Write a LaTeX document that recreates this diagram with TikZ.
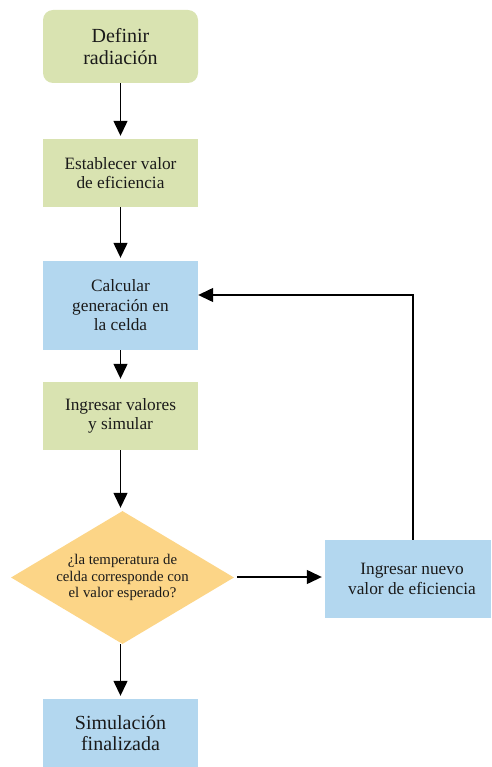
\documentclass[tikz,border=0pt]{standalone}
\usepackage{fontspec}
\setmainfont{Liberation Serif}
\newfontfamily\flowfont{Liberation Serif}
\usetikzlibrary{arrows.meta,shapes.geometric}

\definecolor{stepgreen}{HTML}{D9E3B1}
\definecolor{stepblue}{HTML}{B3D7EF}
\definecolor{decisionorange}{HTML}{FCD587}
\definecolor{inktext}{HTML}{1A1A1A}

\tikzset{
  basebox/.style={draw=none, inner sep=0pt, align=center, text=inktext},
  greenbox/.style={basebox, fill=stepgreen, minimum width=155pt, minimum height=68pt,
    font=\flowfont\fontsize{17.3}{18.5}\selectfont},
  bluebox/.style={basebox, fill=stepblue, minimum width=155pt,
    font=\flowfont\fontsize{17.3}{19.5}\selectfont},
  decision/.style={basebox, diamond, fill=decisionorange, aspect=1.68,
    minimum width=223pt, minimum height=133pt,
    font=\flowfont\fontsize{14.8}{16.7}\selectfont},
  flowarrow/.style={draw=black, line width=1.3pt,
    -{Triangle[width=14pt,length=15pt]}, shorten >=3pt}
}

\begin{document}
\begin{tikzpicture}[x=1pt, y=-1pt]
  \useasboundingbox (0,0) rectangle (491,767);

  % main column of steps
  \node[greenbox, minimum height=73pt, rounded corners=10pt,
        font=\flowfont\fontsize{20}{21.7}\selectfont] (define) at (120.5,46.5) {Definir\\radiación};
  \node[greenbox] (efficiency) at (120.5,173) {Establecer valor\\de eficiencia};
  \node[bluebox, minimum height=89pt] (compute) at (120.5,305.5) {Calcular\\generación en\\la celda};
  \node[greenbox] (simulate) at (120.5,416) {Ingresar valores\\y simular};
  \node[decision] (check) at (122.5,577.5) {¿la temperatura de\\celda corresponde con\\el valor esperado?};
  \node[bluebox, minimum height=68pt, font=\flowfont\fontsize{20}{21.7}\selectfont] (done) at (120.5,733) {Simulación\\finalizada};

  % side step for the feedback loop
  \node[bluebox, minimum width=166pt, minimum height=78pt,
        font=\flowfont\fontsize{17.3}{20}\selectfont] (newvalue) at (408,579)
        {\hspace*{8pt}Ingresar nuevo\\\hspace*{8pt}valor de eficiencia};

  % connectors
  \draw[flowarrow] (define) -- (efficiency);
  \draw[flowarrow] (efficiency) -- (compute);
  \draw[flowarrow] (compute) -- (simulate);
  \draw[flowarrow] (simulate.south) -- (simulate.south |- check.north);
  \draw[flowarrow] (done.north |- check.south) -- (done.north);
  \coordinate (decisionout) at (237,577);
  \draw[flowarrow] (decisionout) -- (decisionout -| newvalue.west);
  \coordinate (loopcorner) at (413,295);
  \draw[flowarrow, shorten >=0pt] (newvalue.north -| loopcorner) -- (loopcorner) -- (compute.east |- loopcorner);
\end{tikzpicture}
\end{document}
